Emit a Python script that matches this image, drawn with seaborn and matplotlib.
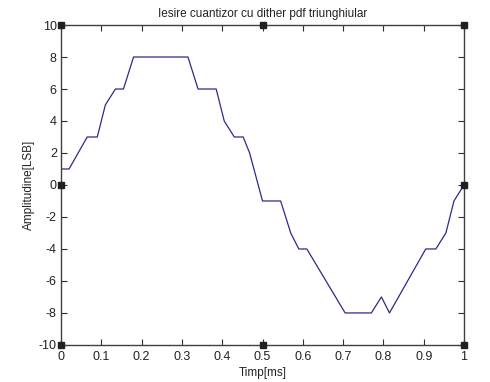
import numpy as np
import pandas as pd
import seaborn as sns
import matplotlib.pyplot as plt

# time [ms] and quantizer output [LSB]
timp = [0.0, 0.02, 0.065, 0.09, 0.11, 0.135, 0.155, 0.18, 0.315, 0.34, 0.385,
        0.405, 0.43, 0.452, 0.468, 0.5, 0.545, 0.57, 0.59, 0.61, 0.705, 0.77,
        0.795, 0.815, 0.905, 0.93, 0.955, 0.975, 1.0]
amplitudine = [1, 1, 3, 3, 5, 6, 6, 8, 8, 6, 6,
               4, 3, 3, 2, -1, -1, -3, -4, -4, -8, -8,
               -7, -8, -4, -4, -3, -1, 0]

xticks = [0, 0.1, 0.2, 0.3, 0.4, 0.5, 0.6, 0.7, 0.8, 0.9, 1]
xticklabels = ["0", "0.1", "0.2", "0.3", "0.4", "0.5", "0.6", "0.7", "0.8", "0.9", "1"]
yticks = [-10, -8, -6, -4, -2, 0, 2, 4, 6, 8, 10]

df = pd.DataFrame({"Timp": timp, "Amplitudine": amplitudine})

sns.set_style("ticks")
plt.rcParams['font.family'] = ['Liberation Sans', 'DejaVu Sans']
plt.rcParams['axes.unicode_minus'] = False
plt.rcParams['xtick.direction'] = 'in'
plt.rcParams['ytick.direction'] = 'in'

fig = plt.figure(figsize=(4.90, 3.82), dpi=100)
ax = fig.add_axes([0.1245, 0.097, 0.8225, 0.8375])

sns.lineplot(data=df, x="Timp", y="Amplitudine", sort=False, estimator=None,
             color="#2b2b8c", linewidth=0.9, ax=ax)

ax.set_xlim(0, 1)
ax.set_ylim(-10, 10)
ax.set_xticks(xticks)
ax.set_xticklabels(xticklabels)
ax.set_yticks(yticks)
ax.tick_params(axis='both', labelsize=9, length=4, width=0.8, color="#303030",
               labelcolor="#222222", top=True, right=True)
ax.tick_params(axis='x', pad=4)
ax.tick_params(axis='y', pad=3)
for s in ax.spines.values():
    s.set_color("#404040")
    s.set_linewidth(1.0)

ax.set_title("Iesire cuantizor cu dither pdf triunghiular", fontsize=8.5, pad=6,
             color="#222222")
ax.set_xlabel("Timp[ms]", fontsize=8.5, labelpad=3.5, color="#222222")
ax.set_ylabel("Amplitudine[LSB]", fontsize=8.5, labelpad=2.5, color="#222222")

# selection handles (MATLAB editor) at corners and edge midpoints
x0, x1 = ax.get_xlim()
y0, y1 = ax.get_ylim()
hx = [x0, (x0 + x1) / 2, x1]
hy = [y0, (y0 + y1) / 2, y1]
for a in hx:
    for b in hy:
        if a == hx[1] and b == hy[1]:
            continue
        ax.plot(a, b, marker='s', markersize=4, color='#202020',
                markeredgecolor='#202020', clip_on=False, zorder=5)

fig.savefig("out.png", dpi=100)
